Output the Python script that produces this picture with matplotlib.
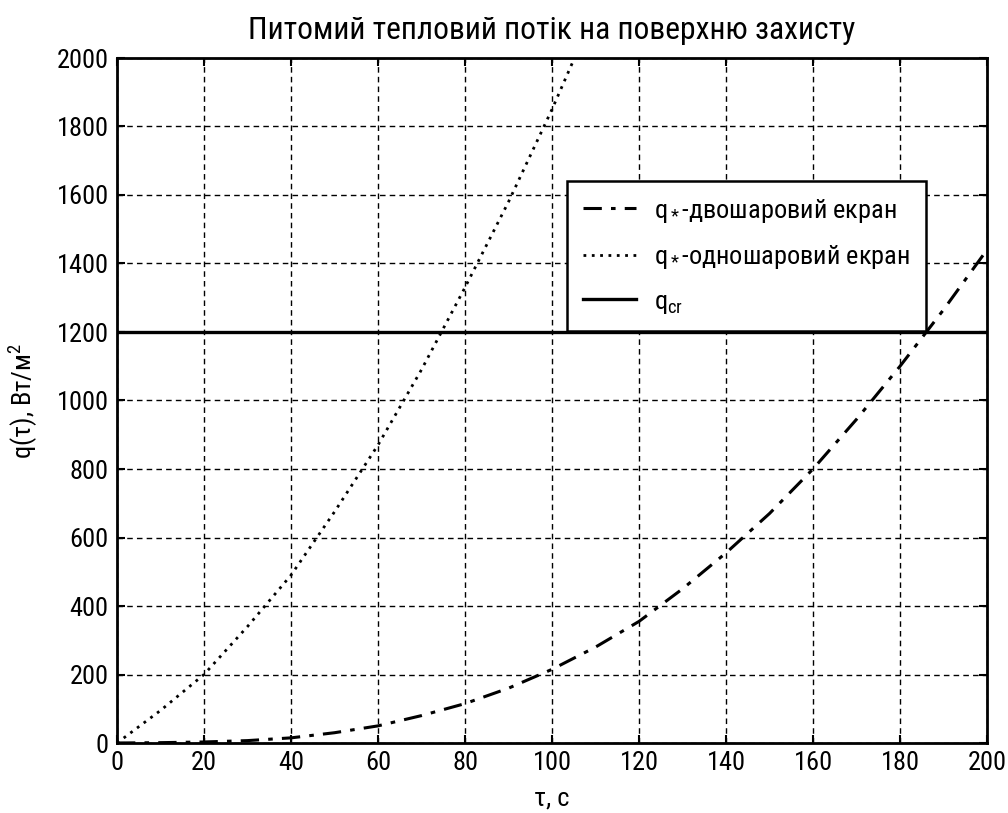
import matplotlib
matplotlib.use("Agg")
import matplotlib.pyplot as plt
from matplotlib import font_manager

#%% Data
t_two = [0, 10, 20, 30, 40, 50, 60, 70, 80, 90, 100,
         110, 120, 130, 140, 150, 160, 170, 180, 190, 200]
q_two = [0, 1, 3, 7, 15, 30, 50, 80, 115, 160, 215,
         280, 355, 450, 555, 670, 800, 945, 1100, 1265, 1440]

t_one = [0, 10, 20, 30, 40, 50, 60, 70, 80, 90, 100, 110]
q_one = [0, 95, 200, 340, 490, 675, 870, 1090, 1330, 1580, 1850, 2140]

q_cr = 1200

title = "Питомий тепловий потік на поверхню захисту"
xlabel = "τ, с"
ylabel = "q(τ), Вт/м$^2$"
labels = ["q$_*$-двошаровий екран", "q$_*$-одношаровий екран", "q$_{cr}$"]

#%% Fonts - narrow face if there is one
installed = {f.name for f in font_manager.fontManager.ttflist}
narrow = [n for n in ["Liberation Sans Narrow", "Roboto Condensed", "Open Sans Condensed",
                      "DejaVu Sans Condensed"] if n in installed]
if narrow:
    main_font = narrow[0]
    fsize = 19
else:
    main_font = "Liberation Sans"
    fsize = 16
plt.rcParams["font.family"] = [main_font, "DejaVu Sans"]
plt.rcParams["mathtext.fontset"] = "custom"
plt.rcParams["mathtext.rm"] = main_font
plt.rcParams["mathtext.it"] = main_font
plt.rcParams["font.size"] = fsize

#%% Plotting
fig = plt.figure(figsize=(10.08, 8.13), dpi=100)
ax = fig.add_axes([117 / 1008, 70 / 813, 870 / 1008, 685 / 813])

ax.plot(t_two, q_two, color="black", linestyle=(0, (6, 3, 1.5, 3)), linewidth=2.2, label=labels[0])
ax.plot(t_one, q_one, color="black", linestyle=(0, (1, 2)), linewidth=2.0, label=labels[1])
ax.axhline(q_cr, color="black", linestyle="-", linewidth=2.4, label=labels[2])

ax.set_xlim(0, 200)
ax.set_ylim(0, 2000)
ax.set_xticks(range(0, 201, 20))
ax.set_yticks(range(0, 2001, 200))
ax.grid(True, color="black", linestyle=(0, (4, 3)), linewidth=1.0)
ax.tick_params(direction="in", top=True, right=True, length=6, width=1.5, pad=6)
for sp in ax.spines.values():
    sp.set_linewidth(2)

ax.set_title(title, pad=14)
ax.set_xlabel(xlabel, labelpad=8)
ax.set_ylabel(ylabel, labelpad=12)

leg = ax.legend(loc="upper right", bbox_to_anchor=(0.945, 0.84), fancybox=False,
                framealpha=1, edgecolor="black", handlelength=2.0, handletextpad=0.7,
                borderpad=0.6, labelspacing=0.7)
leg.get_frame().set_linewidth(1.8)

fig.savefig("out.png", dpi=100)
